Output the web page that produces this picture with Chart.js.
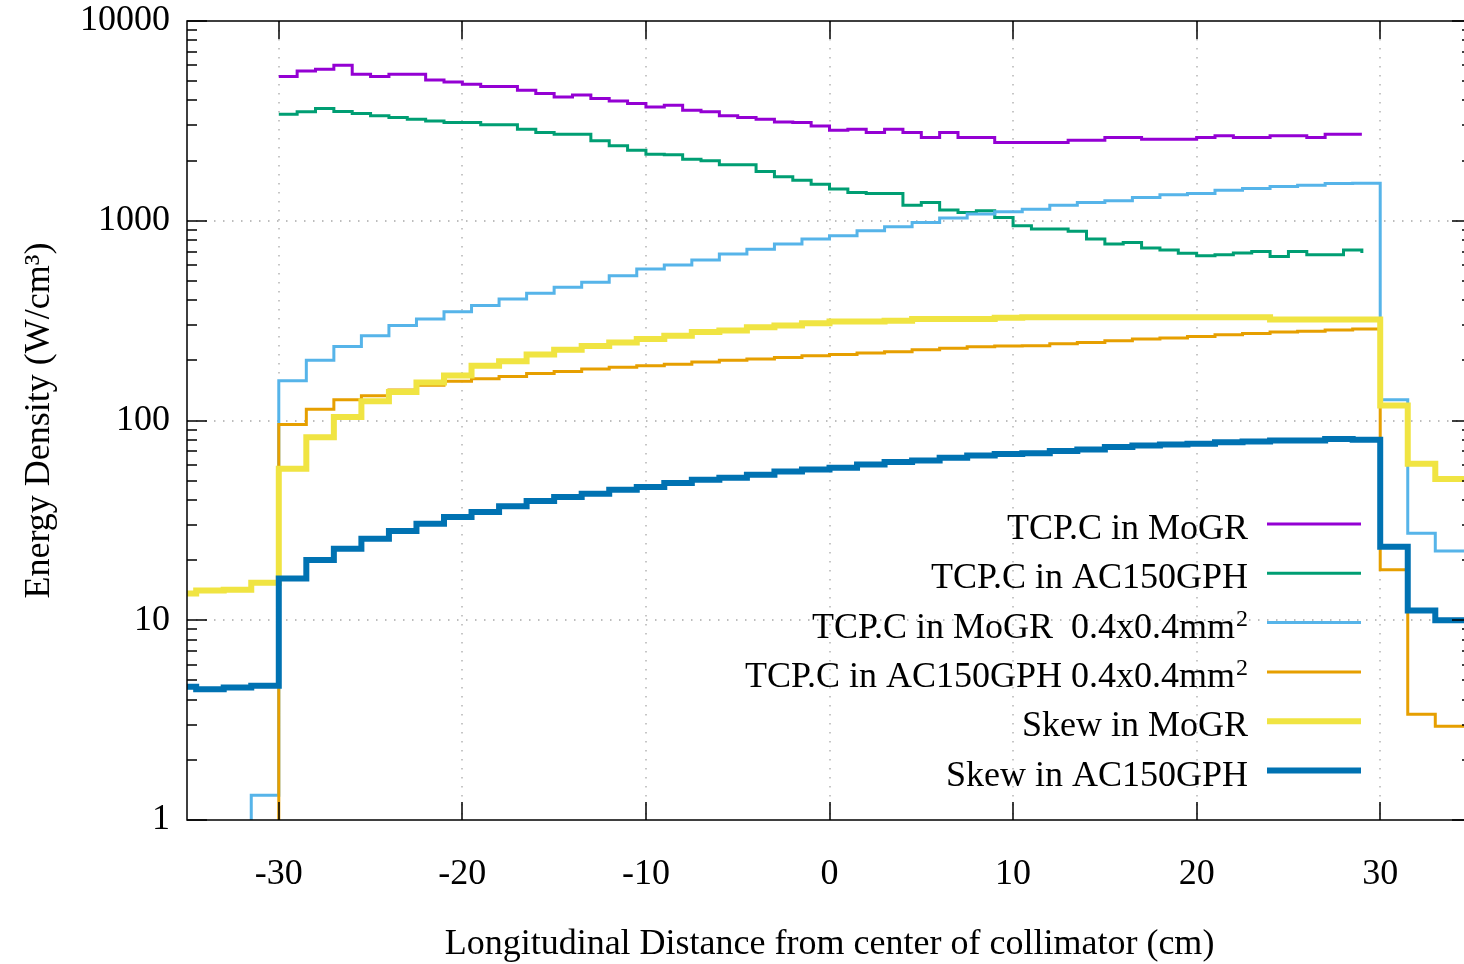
<!DOCTYPE html>
<html>
<head>
<meta charset="utf-8">
<script src="https://cdn.jsdelivr.net/npm/chart.js@4.4.1/dist/chart.umd.min.js"></script>
<style>
  html, body { margin: 0; padding: 0; background: #fff; overflow: hidden; }
  #wrap { width: 1464px; height: 964px; overflow: hidden; }
  canvas { display: block; }
</style>
</head>
<body>
<div id="wrap"><canvas id="chart" width="1472" height="964"></canvas></div>
<script>
// bin positions (cm) - 1 cm bins for the TCP.C runs, 1.5 cm bins for the others
const bins1cm = [-30, -29, -28, -27, -26, -25, -24, -23, -22, -21, -20, -19, -18, -17, -16, -15,
  -14, -13, -12, -11, -10, -9, -8, -7, -6, -5, -4, -3, -2, -1, 0, 1, 2, 3, 4, 5, 6, 7, 8, 9,
  10, 11, 12, 13, 14, 15, 16, 17, 18, 19, 20, 21, 22, 23, 24, 25, 26, 27, 28, 29];
const bins15cm = [-36, -34.5, -33, -31.5, -30, -28.5, -27, -25.5, -24, -22.5, -21, -19.5, -18,
  -16.5, -15, -13.5, -12, -10.5, -9, -7.5, -6, -4.5, -3, -1.5, 0, 1.5, 3, 4.5, 6, 7.5, 9, 10.5,
  12, 13.5, 15, 16.5, 18, 19.5, 21, 22.5, 24, 25.5, 27, 28.5, 30, 31.5, 33, 34.5, 36];

// W/cm^3 (values below 1 are off the bottom of the axis)
const tcpMoGR = [5272, 5623, 5730, 5998, 5412, 5272, 5412, 5412, 5070, 4955, 4822, 4695, 4695,
  4500, 4333, 4169, 4266, 4090, 3981, 3861, 3715, 3786, 3576, 3508, 3350, 3286, 3224, 3126,
  3101, 2985, 2839, 2873, 2766, 2873, 2766, 2610, 2766, 2610, 2610, 2464, 2464, 2464, 2464,
  2532, 2532, 2610, 2610, 2560, 2560, 2560, 2610, 2661, 2610, 2610, 2661, 2661, 2610, 2712,
  2712, 2712];
const tcpAC150 = [3415, 3508, 3648, 3522, 3442, 3350, 3286, 3224, 3162, 3101, 3101, 3020, 3020,
  2873, 2766, 2712, 2712, 2512, 2371, 2256, 2154, 2138, 2032, 1995, 1905, 1905, 1765, 1660,
  1597, 1525, 1440, 1386, 1370, 1370, 1197, 1235, 1131, 1101, 1122, 1039, 944, 908, 908, 885,
  810, 764, 779, 730, 713, 687, 668, 676, 689, 702, 663, 702, 676, 676, 713, 689];
const tcpMoGRfine = [0.1, 0.1, 0.1, 1.33, 158, 200, 235, 266, 299, 322, 350, 376, 406, 433, 464,
  492, 531, 573, 600, 636, 681, 719, 764, 810, 841, 891, 933, 981, 1031, 1080, 1109, 1143, 1197,
  1235, 1259, 1308, 1349, 1370, 1423, 1452, 1486, 1507, 1538, 1540, 127, 27.3, 22.2, 22.2, 22.2];
const tcpAC150fine = [0.1, 0.1, 0.1, 0.1, 95.5, 114, 127, 133, 142, 150, 157, 162, 166, 172, 176,
  181, 185, 188, 191, 196, 200, 203, 207, 211, 214, 218, 221, 226, 230, 234, 236, 237, 242, 246,
  251, 256, 259, 263, 269, 273, 277, 280, 284, 287, 17.9, 3.38, 2.95, 2.95, 2.95];
const skewMoGR = [13.6, 14.1, 14.2, 15.4, 57.3, 82.5, 104, 125, 139, 155, 168, 188, 198, 214, 226,
  236, 246, 256, 266, 277, 282, 293, 299, 307, 313, 313, 316, 322, 322, 322, 327, 329, 329, 329,
  329, 329, 329, 329, 329, 329, 320, 320, 320, 320, 119, 60.7, 51, 51, 51];
const skewAC150 = [4.64, 4.52, 4.6, 4.7, 16.2, 20, 22.8, 25.6, 28, 30.4, 32.9, 34.8, 37.2, 39.5,
  41.4, 43, 45, 46.4, 48.6, 50.5, 51.7, 53.5, 55.6, 56.9, 58, 60.3, 61.9, 63.1, 65.1, 66.8, 68,
  68.5, 70.3, 71.6, 73.6, 75, 75.9, 76.4, 77.9, 78.5, 79.4, 79.4, 80.7, 80, 23.3, 11.2, 10, 10, 10];

const xTicks = [-30, -20, -10, 0, 10, 20, 30];
const yTicks = [1, 10, 100, 1000, 10000];

const FONT = "'Liberation Serif', 'DejaVu Serif', serif";
const FS = 36;

const toPoints = (xs, ys) => xs.map((x, i) => ({ x: x, y: ys[i] }));

const series = [
  { label: 'TCP.C in MoGR', xs: bins1cm, ys: tcpMoGR, color: '#9400d3', width: 3 },
  { label: 'TCP.C in AC150GPH', xs: bins1cm, ys: tcpAC150, color: '#009e73', width: 3 },
  { label: 'TCP.C in MoGR  0.4x0.4mm\u00b2', xs: bins15cm, ys: tcpMoGRfine, color: '#56b4e9', width: 3 },
  { label: 'TCP.C in AC150GPH 0.4x0.4mm\u00b2', xs: bins15cm, ys: tcpAC150fine, color: '#e69f00', width: 3 },
  { label: 'Skew in MoGR', xs: bins15cm, ys: skewMoGR, color: '#f0e442', width: 6 },
  { label: 'Skew in AC150GPH', xs: bins15cm, ys: skewAC150, color: '#0072b2', width: 6 },
];

// gnuplot style frame: dotted grid, inward ticks on all sides
const framePlugin = {
  id: 'frame',
  beforeDatasetsDraw(chart) {
    const { ctx, chartArea: a, scales: { x, y } } = chart;
    ctx.save();
    ctx.strokeStyle = '#a8a8a8';
    ctx.lineWidth = 1.3;
    ctx.setLineDash([1.5, 7.5]);
    xTicks.forEach(v => {
      const px = Math.round(x.getPixelForValue(v));
      ctx.beginPath(); ctx.moveTo(px, a.top); ctx.lineTo(px, a.bottom); ctx.stroke();
    });
    yTicks.slice(1, -1).forEach(v => {
      const py = Math.round(y.getPixelForValue(v));
      ctx.beginPath(); ctx.moveTo(a.left, py); ctx.lineTo(a.right, py); ctx.stroke();
    });
    ctx.restore();
  },
  afterDatasetsDraw(chart) {
    const { ctx, chartArea: a, scales: { x, y } } = chart;
    ctx.save();
    ctx.strokeStyle = '#000';
    ctx.lineWidth = 1.5;
    ctx.beginPath();
    xTicks.forEach(v => {
      const px = Math.round(x.getPixelForValue(v));
      ctx.moveTo(px, a.bottom); ctx.lineTo(px, a.bottom - 18);
      ctx.moveTo(px, a.top); ctx.lineTo(px, a.top + 18);
    });
    yTicks.forEach((v, i) => {
      const py = Math.round(y.getPixelForValue(v));
      ctx.moveTo(a.left, py); ctx.lineTo(a.left + 20, py);
      ctx.moveTo(a.right, py); ctx.lineTo(a.right - 20, py);
      if (i === yTicks.length - 1) return;
      for (let k = 2; k <= 9; k++) {
        const pm = Math.round(y.getPixelForValue(v * k));
        ctx.moveTo(a.left, pm); ctx.lineTo(a.left + 10, pm);
        ctx.moveTo(a.right, pm); ctx.lineTo(a.right - 10, pm);
      }
    });
    ctx.stroke();
    ctx.strokeRect(a.left, a.top, a.right - a.left, a.bottom - a.top);
    ctx.restore();
  }
};

// key in the lower right: text right-aligned, sample line after it
const keyPlugin = {
  id: 'key',
  afterDatasetsDraw(chart) {
    const ctx = chart.ctx;
    const textRight = 1248, lineX1 = 1267, lineX2 = 1361, top = 524, step = 49.3;
    ctx.save();
    chart.data.datasets.forEach((ds, i) => {
      const yy = top + i * step;
      ctx.strokeStyle = ds.borderColor;
      ctx.lineWidth = ds.borderWidth;
      ctx.beginPath(); ctx.moveTo(lineX1, yy); ctx.lineTo(lineX2, yy); ctx.stroke();
      ctx.fillStyle = '#000';
      ctx.textAlign = 'right';
      ctx.textBaseline = 'alphabetic';
      let text = ds.label;
      let right = textRight;
      if (text.endsWith('\u00b2')) {
        text = text.slice(0, -1);
        ctx.font = '24px ' + FONT;
        ctx.fillText('2', right, yy + 3);
        right -= ctx.measureText('2').width + 1;
      }
      ctx.font = FS + 'px ' + FONT;
      ctx.fillText(text, right, yy + 15);
    });
    ctx.restore();
  }
};

new Chart(document.getElementById('chart'), {
  type: 'line',
  data: {
    datasets: series.map((s, i) => ({
      label: s.label,
      data: toPoints(s.xs, s.ys),
      borderColor: s.color,
      borderWidth: s.width,
      stepped: 'before',
      pointRadius: 0,
      fill: false,
      clip: 0,
      order: series.length - i
    }))
  },
  options: {
    responsive: false,
    devicePixelRatio: 1,
    animation: false,
    layout: { padding: { top: 21, right: 0, bottom: 0, left: 0 } },
    plugins: { legend: { display: false }, tooltip: { enabled: false } },
    scales: {
      x: {
        type: 'linear',
        min: -35,
        max: 35,
        grid: { display: false },
        border: { display: false },
        afterBuildTicks: axis => { axis.ticks = xTicks.map(v => ({ value: v })); },
        afterFit: axis => { axis.height = 144; axis.paddingLeft = 0; axis.paddingRight = 0; },
        ticks: { color: '#000', padding: 25, maxRotation: 0, font: { family: FONT, size: FS } },
        title: {
          display: true,
          text: 'Longitudinal Distance from center of collimator (cm)',
          color: '#000',
          padding: { top: 0, bottom: -2 },
          font: { family: FONT, size: FS }
        }
      },
      y: {
        type: 'logarithmic',
        min: 1,
        max: 10000,
        grid: { display: false },
        border: { display: false },
        afterBuildTicks: axis => { axis.ticks = yTicks.map(v => ({ value: v })); },
        afterFit: axis => { axis.width = 187; axis.paddingTop = 0; axis.paddingBottom = 0; },
        ticks: { color: '#000', padding: 9, callback: v => String(v), font: { family: FONT, size: FS } },
        title: {
          display: true,
          text: 'Energy Density (W/cm\u00b3)',
          color: '#000',
          padding: { top: 18, bottom: 0 },
          font: { family: FONT, size: FS }
        }
      }
    }
  },
  plugins: [framePlugin, keyPlugin]
});
</script>
</body>
</html>
